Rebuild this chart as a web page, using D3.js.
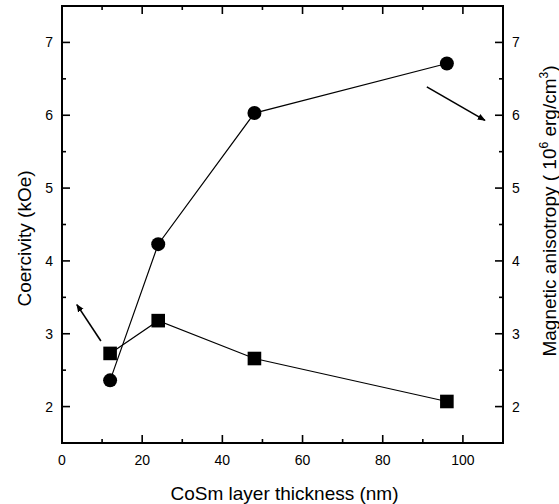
<!DOCTYPE html>
<meta charset="utf-8">
<style>
    body { margin: 0; background: #fff; }
    text { font-family: "Liberation Sans", Arial, sans-serif; fill: #000; }
    .tick-label { font-size: 14px; }
    .axis-title { font-size: 19px; }
</style>
<body>
<script src="https://d3js.org/d3.v7.min.js"></script>
<script>
// data
var thickness = [12, 24, 48, 96];
var coercivity = [2.73, 3.18, 2.66, 2.07];
var anisotropy = [2.36, 4.23, 6.03, 6.71];

var xTicks = [0, 20, 40, 60, 80, 100];
var yTicks = [2, 3, 4, 5, 6, 7];

// arrows pointing at the axis each series belongs to (data units)
var arrowLeft = [[9.7, 2.90], [3.7, 3.40]];
var arrowRight = [[91.0, 6.39], [105.5, 5.93]];

var width = 559,
    height = 504;
var margin = { top: 6, right: 56, bottom: 61, left: 62 };
var x0 = margin.left, x1 = width - margin.right,
    y0 = margin.top, y1 = height - margin.bottom;

var svg = d3.select("body").append("svg")
    .attr("width", width)
    .attr("height", height);

var x = d3.scaleLinear().domain([0, 110]).range([x0, x1]);
var y = d3.scaleLinear().domain([1.5, 7.5]).range([y1, y0]);

var xMinor = d3.range(0, 111, 10).filter(function (d) { return xTicks.indexOf(d) < 0; });
var yMinor = d3.range(1.5, 7.51, 0.5).filter(function (d) { return yTicks.indexOf(d) < 0; });

// ticks, all pointing inward, on four sides
var ticks = svg.append("g").attr("stroke", "#000").attr("stroke-width", 1.6);
function hTicks(vals, len) {
    vals.forEach(function (v) {
        ticks.append("line").attr("x1", x(v)).attr("x2", x(v)).attr("y1", y1).attr("y2", y1 - len);
        ticks.append("line").attr("x1", x(v)).attr("x2", x(v)).attr("y1", y0).attr("y2", y0 + len);
    });
}
function vTicks(vals, len) {
    vals.forEach(function (v) {
        ticks.append("line").attr("y1", y(v)).attr("y2", y(v)).attr("x1", x0).attr("x2", x0 + len);
        ticks.append("line").attr("y1", y(v)).attr("y2", y(v)).attr("x1", x1).attr("x2", x1 - len);
    });
}
hTicks(xTicks, 8);
hTicks(xMinor, 4);
vTicks(yTicks, 8);
vTicks(yMinor, 4);

// frame
svg.append("rect")
    .attr("x", x0).attr("y", y0)
    .attr("width", x1 - x0).attr("height", y1 - y0)
    .attr("fill", "none").attr("stroke", "#000").attr("stroke-width", 2);

// tick labels
svg.selectAll(".xl").data(xTicks).enter().append("text")
    .attr("class", "tick-label")
    .attr("x", function (d) { return x(d); })
    .attr("y", y1 + 22)
    .attr("text-anchor", "middle")
    .text(function (d) { return d; });

svg.selectAll(".yl").data(yTicks).enter().append("text")
    .attr("class", "tick-label")
    .attr("x", x0 - 9)
    .attr("y", function (d) { return y(d) + 5; })
    .attr("text-anchor", "end")
    .text(function (d) { return d; });

svg.selectAll(".yr").data(yTicks).enter().append("text")
    .attr("class", "tick-label")
    .attr("x", x1 + 9)
    .attr("y", function (d) { return y(d) + 5; })
    .attr("text-anchor", "start")
    .text(function (d) { return d; });

// axis titles
svg.append("text")
    .attr("class", "axis-title")
    .attr("x", (x0 + x1) / 2 + 2)
    .attr("y", 500)
    .attr("text-anchor", "middle")
    .text("CoSm layer thickness (nm)");

svg.append("text")
    .attr("class", "axis-title")
    .attr("transform", "translate(31," + ((y0 + y1) / 2 + 14) + ") rotate(-90)")
    .attr("text-anchor", "middle")
    .text("Coercivity (kOe)");

var rt = svg.append("text")
    .attr("class", "axis-title")
    .attr("transform", "translate(556," + 211 + ") rotate(-90)")
    .attr("text-anchor", "middle");
rt.append("tspan").text("Magnetic anisotropy ( 10");
rt.append("tspan").attr("dy", -8).style("font-size", "12px").text("6");
rt.append("tspan").attr("dy", 8).text(" erg/cm");
rt.append("tspan").attr("dy", -8).style("font-size", "12px").text("3");
rt.append("tspan").attr("dy", 8).text(")");

// series lines
var line = d3.line()
    .x(function (d) { return x(d[0]); })
    .y(function (d) { return y(d[1]); });

var sq = d3.zip(thickness, coercivity);
var ci = d3.zip(thickness, anisotropy);

svg.append("path").datum(sq)
    .attr("d", line).attr("fill", "none").attr("stroke", "#000").attr("stroke-width", 1.2);
svg.append("path").datum(ci)
    .attr("d", line).attr("fill", "none").attr("stroke", "#000").attr("stroke-width", 1.2);

// markers
svg.selectAll(".sq").data(sq).enter().append("path")
    .attr("d", d3.symbol().type(d3.symbolSquare).size(185))
    .attr("transform", function (d) { return "translate(" + x(d[0]) + "," + y(d[1]) + ")"; })
    .attr("fill", "#000");

svg.selectAll(".ci").data(ci).enter().append("circle")
    .attr("cx", function (d) { return x(d[0]); })
    .attr("cy", function (d) { return y(d[1]); })
    .attr("r", 7)
    .attr("fill", "#000");

// arrows
svg.append("defs").append("marker")
    .attr("id", "head")
    .attr("viewBox", "0 0 10 10")
    .attr("refX", 9).attr("refY", 5)
    .attr("markerWidth", 8).attr("markerHeight", 8)
    .attr("markerUnits", "userSpaceOnUse")
    .attr("orient", "auto")
    .append("path")
    .attr("d", "M0,1 L10,5 L0,9 Z")
    .attr("fill", "#000");

[arrowLeft, arrowRight].forEach(function (a) {
    svg.append("line")
        .attr("x1", x(a[0][0])).attr("y1", y(a[0][1]))
        .attr("x2", x(a[1][0])).attr("y2", y(a[1][1]))
        .attr("stroke", "#000").attr("stroke-width", 1.6)
        .attr("marker-end", "url(#head)");
});
</script>
</body>
